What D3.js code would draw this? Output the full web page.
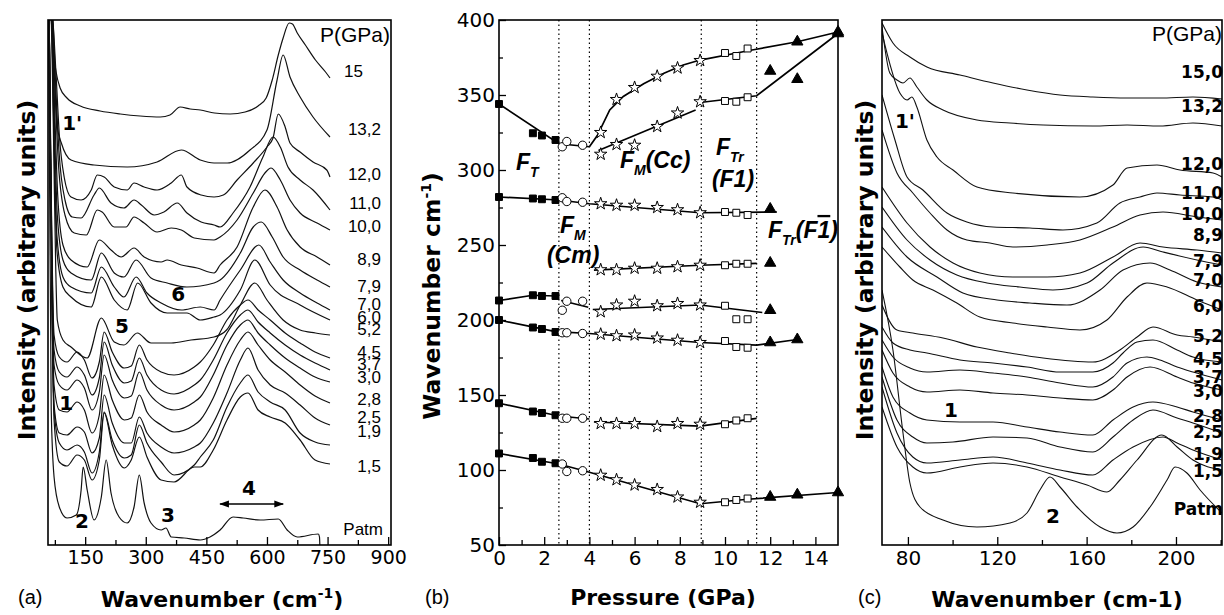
<!DOCTYPE html>
<html>
<head>
<meta charset="utf-8">
<script src="https://cdn.jsdelivr.net/npm/d3@7"></script>
<style>
body { margin: 0; background: #fff; }
svg { display: block; }
</style>
</head>
<body>
<svg id="fig" width="1224" height="615"></svg>
<script>
// ---- panel (a): spectra 60-750 cm-1, pairs [wavenumber, intensity] ----
var a150 = [[61,540],[66,525],[71,495],[78,473],[88,457],[105,447],[138,439],[187,434],[237,431],[286,429],[336,428],[360,430],[385,438],[410,436],[435,435],[470,432],[509,431],[546,433],[578,439],[598,447],[613,465],[628,490],[640,507],[655,522],[663,521],[675,512],[695,500],[720,485],[745,473],[756,467]];
var a132 = [[61,545],[68,525],[75,460],[81,418],[91,402],[115,385],[172,380],[254,378],[328,383],[388,395],[435,385],[469,382],[502,382],[558,395],[600,415],[625,465],[640,490],[657,468],[682,448],[714,428],[756,408]];
var a120 = [[62,545],[70,525],[78,470],[86,410],[98,368],[115,348],[140,345],[165,355],[180,370],[197,368],[222,358],[254,355],[271,362],[296,358],[328,355],[363,362],[388,370],[402,358],[437,350],[469,348],[492,350],[526,365],[566,382],[600,398],[615,407],[628,431],[645,418],[657,402],[682,393],[714,383],[748,375],[756,368]];
var a110 = [[62,545],[70,525],[77,460],[85,395],[100,345],[118,328],[140,327],[172,350],[185,357],[214,342],[246,337],[271,345],[289,340],[321,330],[345,333],[378,342],[402,332],[437,323],[469,320],[484,318],[516,332],[558,358],[590,388],[615,408],[633,398],[652,378],[682,365],[714,355],[756,335]];
var a100 = [[62,545],[69,525],[76,450],[84,380],[100,330],[123,312],[153,310],[180,335],[192,333],[222,318],[251,318],[271,328],[296,322],[328,313],[363,317],[388,315],[420,307],[469,305],[484,308],[526,325],[566,352],[595,372],[610,377],[633,365],[657,345],[682,332],[724,322],[756,315]];
var a89 = [[62,545],[68,525],[75,430],[82,350],[95,300],[115,285],[155,278],[185,305],[214,295],[239,288],[271,297],[296,288],[338,283],[353,285],[388,280],[427,277],[469,272],[484,280],[526,298],[566,338],[595,355],[625,338],[650,315],[682,298],[724,288],[756,280]];
var a79 = [[62,545],[68,525],[74,420],[81,330],[95,285],[115,272],[165,265],[190,292],[222,272],[246,268],[276,285],[313,267],[353,262],[402,258],[469,262],[484,265],[534,292],[566,318],[586,323],[613,308],[640,288],[682,275],[724,265],[756,258]];
var a70 = [[62,545],[67,525],[73,410],[80,310],[95,268],[115,258],[165,252],[190,278],[222,258],[246,248],[276,268],[303,252],[338,242],[388,235],[435,238],[469,235],[484,245],[534,275],[580,300],[608,283],[640,265],[682,252],[724,242],[756,235]];
var a60 = [[62,545],[67,525],[73,400],[80,295],[95,258],[115,248],[165,238],[190,268],[222,245],[254,235],[280,262],[313,242],[353,232],[402,232],[435,225],[469,228],[484,230],[534,255],[570,285],[608,260],[682,240],[756,225]];
var a52 = [[62,545],[66,525],[72,400],[77,280],[81,225],[95,205],[115,198],[155,187],[190,227],[222,203],[246,200],[279,212],[313,202],[363,202],[412,205],[469,208],[500,215],[534,240],[570,262],[600,245],[640,225],[682,215],[720,212],[756,210]];
// low-pressure spectra share one wavenumber grid
var aGrid = [61,73,86,105,130,148,167,185,197,217,247,264,284,303,338,370,420,435,467,501,534,553,578,608,645,682,719,756];
var a45 = [525,210,188,183,193,185,167,183,213,193,177,179,200,185,173,170,178,183,200,225,240,245,235,225,212,202,193,187];
var a37 = [525,195,173,168,178,170,150,167,203,180,162,164,187,170,155,151,160,165,185,212,230,235,223,212,200,190,182,175];
var a30 = [525,180,160,155,165,157,135,153,190,165,147,149,173,155,140,135,143,148,170,200,220,225,212,200,187,177,168,163];
var a28 = [525,160,135,133,143,135,112,130,170,145,125,127,150,133,120,113,120,125,147,180,205,213,200,185,173,160,149,142];
var a25 = [525,140,112,110,118,113,92,107,150,122,102,102,128,112,98,92,98,102,122,152,185,197,175,160,152,140,127,120];
var a19 = [525,135,102,95,100,93,72,93,133,105,87,90,120,102,83,70,80,88,105,138,162,170,153,143,135,112,103,100];
var a15 = [525,125,83,79,90,85,65,85,132,100,77,85,108,88,65,63,78,78,95,125,148,152,135,128,122,105,85,81];
var aPatm = [[59,525],[66,135],[73,68],[86,38],[105,27],[128,30],[140,55],[145,78],[155,55],[172,25],[190,48],[202,85],[214,52],[234,28],[254,22],[271,38],[284,70],[296,42],[313,22],[338,15],[350,17],[363,8],[395,7],[435,5],[459,8],[484,15],[516,28],[541,27],[583,25],[628,26],[650,15],[675,8],[727,11],[730,8],[731,-2]];
var aLabels = ["15","13,2","12,0","11,0","10,0","8,9","7,9","7,0","6,0","5,2","4,5","3,7","3,0","2,8","2,5","1,9","1,5","Patm"];
var aTicks = [150,300,450,600,750,900];
var aMinor = [75,225,375,525,675,825];

// ---- panel (b): mode wavenumbers vs pressure ----
var pT = [0, 1.5, 1.9, 2.5];               // F_T, filled squares
var pCm = [2.8, 3.0, 3.7];                 // F_M(Cm), open circles
var pCc = [4.5, 5.2, 6.0, 7.0, 7.9, 8.9];  // F_M(Cc), open stars
var pF1 = [10.0, 10.5, 11.0];              // F_Tr(F1), open squares
var pF1b = [12.0, 13.2, 15.0];             // F_Tr(F-1), filled triangles
var wT = [[344,324.5,323,320],[282,281,280.5,280],[213,216.5,216,216],[200,195,194,192],[144.5,139,138,136.5],[111,108,105.5,104.5]];
var wCm = [[315.5,319,316.5],[281.5,279,278.5],[206.5,212.5,212.5],[191.5,191.5,191],[134.5,134.5,134.5],[104,99,99.5]];
var wCc = [[325,347,355,362.5,368,373],[310.5,317,316.5,329,338,345.5],[277.5,276.5,276.5,275,273.5,271.5],[233.5,233.5,234.5,234.5,235.5,236.5],[205.5,210,212.5,209.5,211,210],[190.5,189.5,190,188,186.5,185],[131,131,131,129,131,130.5],[96.5,93.5,90,87,82,78.5]];
var wF1 = [[378,376,381],[346,345.5,348.5],[272,271.5,270],[236.5,237.5,237.5],[209.5,200.5,200.5],[186,182,181.5],[130.5,133,134.5],[78.5,80,81]];
var wF1b = [[null,385.5,392],[366,360.5,391],[274,null,null],[238,null,null],[206.5,null,null],[185,187,null],[82,83.5,85]];
var fitB = [
  [[0,344],[2.65,317.5],[4.0,315.5]],
  [[4.0,315.5],[4.35,323],[4.9,340],[5.5,349],[6.4,357.5],[7.3,364.5],[8.15,370],[8.9,373.3],[11.2,380],[13.2,385.5],[15,392]],
  [[4.4,313],[8.7,340]],
  [[8.9,345],[11.4,349.5],[15,391]],
  [[0,282],[2.65,280],[4.0,277.5],[8.9,271.5],[12.3,272]],
  [[4.2,233.3],[8.9,236.5],[11.4,237.8]],
  [[0,213],[1.5,216.5],[2.5,216]],
  [[2.75,213],[3.95,208.5]],
  [[4.15,207],[8.9,210],[11.65,205]],
  [[0,200],[2.5,192.2],[4.0,191],[8.9,185],[11.4,183.3],[13.2,187]],
  [[0,144.5],[2.65,136],[4.0,134]],
  [[4.2,132],[8.9,129.3],[11.4,134.4]],
  [[0,111],[2.65,104],[4.0,98.5],[8.9,77.5],[11.0,80.5],[15,85]]
];
var pBounds = [2.65, 4.0, 8.95, 11.4];

// ---- panel (c): spectra 68-220 cm-1 ----
var c150 = [[68.4,522],[73.3,502],[80.9,488],[88.5,478],[103.3,470],[118.1,462],[133.3,455],[148.1,450],[162.8,448],[178.1,447],[192.8,447],[207.6,448],[220.6,446]];
var c132 = [[68.4,518],[71.9,472],[75.1,465],[77.8,462],[80.9,467],[84.0,458],[88.5,445],[95.7,435],[110.9,425],[125.7,422],[140.5,420],[162.8,419],[178.1,420],[192.8,419],[207.6,422],[220.6,419]];
var c120 = [[68.4,512],[76.4,452],[79.6,445],[81.8,448],[84.0,438],[88.5,405],[93.0,388],[100.2,375],[110.9,358],[127.0,352],[157.0,348],[171.8,360],[178.1,377],[191.5,380],[201.8,375],[216.6,372],[220.6,368]];
var c110 = [[68.4,450],[74.2,405],[79.6,368],[86.7,355],[97.5,332],[106.4,323],[118.1,318],[134.6,317],[149.4,315],[164.6,322],[174.9,342],[183.9,348],[191.5,352],[201.8,350],[216.6,348],[220.6,345]];
var c100 = [[68.4,415],[75.1,372],[82.2,352],[89.9,332],[97.5,315],[106.4,305],[116.7,302],[127.0,298],[142.3,300],[157.0,305],[171.8,318],[183.9,330],[194.2,333],[209.4,328],[220.6,325]];
var c89 = [[68.4,358],[79.6,322],[89.9,298],[100.2,282],[112.2,272],[127.0,268],[142.3,268],[157.0,272],[171.8,288],[183.9,302],[194.2,298],[209.4,295],[220.6,292]];
var c79 = [[68.4,338],[79.6,305],[89.9,285],[101.9,270],[115.4,262],[130.1,258],[144.9,255],[160.2,262],[171.8,282],[185.3,298],[194.2,293],[209.4,285],[220.6,280]];
var c70 = [[68.4,318],[79.6,288],[93.0,268],[104.6,252],[119.9,245],[134.6,242],[151.2,240],[166.0,255],[176.3,275],[188.4,282],[197.3,275],[209.4,263],[220.6,258]];
var c60 = [[68.4,298],[76.4,278],[82.2,265],[91.2,255],[101.9,242],[112.2,228],[127.0,222],[142.3,218],[157.0,215],[169.1,225],[178.1,248],[187.0,262],[196.0,258],[209.4,245],[220.6,235]];
var c52 = [[68.4,240],[75.1,215],[82.2,212],[95.7,207],[110.9,198],[125.7,192],[140.5,187],[162.8,183],[174.9,195],[182.6,208],[189.7,218],[200.5,210],[207.6,208],[220.6,203]];
var c45 = [[68.4,218],[73.3,202],[80.9,195],[88.5,192],[103.3,185],[118.1,182],[133.3,178],[148.1,173],[162.8,173],[171.8,182],[176.3,192],[182.6,203],[189.7,205],[200.5,195],[207.6,188],[220.6,183]];
var c37 = [[68.4,205],[73.3,188],[80.9,177],[88.5,173],[103.3,175],[118.1,172],[133.3,168],[148.1,162],[162.8,158],[171.8,168],[178.1,182],[187.0,188],[192.8,185],[200.5,178],[207.6,173],[220.6,165]];
var c30 = [[68.4,195],[73.3,172],[80.9,158],[88.5,153],[103.3,155],[118.1,152],[133.3,150],[148.1,147],[162.8,145],[171.8,155],[178.1,168],[188.4,178],[200.5,168],[207.6,162],[220.6,155]];
var c28 = [[68.4,178],[73.3,148],[80.9,132],[88.5,125],[103.3,123],[118.1,123],[133.3,118],[148.1,113],[162.8,110],[171.8,125],[180.8,138],[189.7,143],[200.5,138],[207.6,133],[220.6,125]];
var c25 = [[68.4,168],[75.1,125],[82.2,108],[88.5,102],[100.2,103],[118.1,108],[133.3,107],[148.1,98],[162.8,93],[171.8,108],[180.8,125],[189.7,135],[200.5,127],[207.6,122],[220.6,112]];
var c19 = [[68.4,158],[75.1,112],[82.2,88],[88.5,82],[103.3,85],[118.1,88],[133.3,82],[148.1,75],[162.8,70],[171.8,85],[180.8,98],[194.2,108],[200.5,102],[207.6,95],[220.6,85]];
var c15 = [[68.4,138],[75.1,98],[82.2,78],[88.5,72],[103.3,78],[118.1,82],[133.3,78],[148.1,68],[160.2,60],[169.1,53],[174.9,65],[182.6,85],[193.7,110],[200.5,98],[207.6,85],[220.6,75]];
var cPatm = [[68.4,255],[73.3,195],[77.8,112],[80.9,62],[85.4,38],[95.7,25],[110.9,18],[125.7,22],[133.3,32],[139.1,55],[143.6,68],[148.1,58],[155.7,38],[166.0,18],[173.6,12],[180.8,18],[188.4,38],[196.0,65],[199.6,78],[204.9,72],[210.8,55],[220.6,32]];
var cLabels = ["15,0","13,2","12,0","11,0","10,0","8,9","7,9","7,0","6,0","5,2","4,5","3,7","3,0","2,8","2,5","1,9","1,5","Patm"];
var cTicks = [80,120,160,200];
var cMinor = [100,140,180,220];

// label placement (intensity units, same scale as the curves)
var aLabelAt = [468,410,365,336,313,280,253,235,222,210,187,175,162,140,122,108,73,10];
var cLabelAt = [467,433,375,346,325,304,278,259,233,203,180,162,148,123,107,85,68,30];

var svg = d3.select("#fig");
var top0 = 20, bot0 = 545;

var xA = d3.scaleLinear().domain([58, 907]).range([48, 391]);
var yA = d3.scaleLinear().domain([0, 525]).range([bot0, top0]);
var xB = d3.scaleLinear().domain([0, 15]).range([499, 838]);
var yB = d3.scaleLinear().domain([50, 400]).range([bot0, top0]);
var xC = d3.scaleLinear().domain([68.4, 220.6]).range([882, 1222]);
var yC = yA;

function clip(id, x0, x1) {
    svg.append("clipPath").attr("id", id).append("rect")
        .attr("x", x0).attr("y", top0).attr("width", x1 - x0).attr("height", bot0 - top0);
}
clip("clipA", xA.range()[0], xA.range()[1]);
clip("clipC", xC.range()[0], xC.range()[1]);

function frame(x) {
    svg.append("rect")
        .attr("x", x.range()[0]).attr("y", top0)
        .attr("width", x.range()[1] - x.range()[0]).attr("height", bot0 - top0)
        .attr("fill", "none").attr("stroke", "#000").attr("stroke-width", 1.6);
}

function ticksBottom(x, major, minor, fs) {
    var g = svg.append("g").attr("transform", "translate(0," + bot0 + ")")
        .call(d3.axisBottom(x).tickValues(major).tickSize(-8).tickPadding(6).tickFormat(d3.format("d")));
    g.select(".domain").remove();
    g.selectAll("text").style("font-family", "DejaVu Sans").style("font-size", fs + "px").attr("fill", "#000");
    var m = svg.append("g").attr("transform", "translate(0," + bot0 + ")")
        .call(d3.axisBottom(x).tickValues(minor).tickSize(-5).tickFormat(""));
    m.select(".domain").remove();
    svg.selectAll(".tick line").attr("stroke", "#000").attr("stroke-width", 1.3);
}

function title(x, y, rot, parts, fs) {
    var t = svg.append("text")
        .attr("transform", "translate(" + x + "," + y + ")" + (rot ? " rotate(-90)" : ""))
        .attr("text-anchor", "middle")
        .style("font-family", "DejaVu Sans").style("font-weight", "bold").style("font-size", fs + "px");
    parts.forEach(function(p) {
        t.append("tspan").text(p[0]).attr("dy", p[1]).style("font-size", p[2] + "px");
    });
}

function plain(x, y, txt, fs, anchor, family, weight) {
    return svg.append("text").attr("x", x).attr("y", y).text(txt)
        .attr("text-anchor", anchor || "start")
        .style("font-family", family || "Liberation Sans")
        .style("font-weight", weight || "normal")
        .style("font-size", fs + "px");
}

var spec = d3.line().curve(d3.curveMonotoneX);

// ================= panel (a) =================
var gA = svg.append("g").attr("clip-path", "url(#clipA)");
var lowSets = [a45, a37, a30, a28, a25, a19, a15];
var allA = [a150, a132, a120, a110, a100, a89, a79, a70, a60, a52]
    .concat(lowSets.map(function(v) { return aGrid.map(function(w, i) { return [w, v[i]]; }); }))
    .concat([aPatm]);
gA.selectAll("path.sp").data(allA).enter().append("path")
    .attr("class", "sp")
    .attr("d", function(d) { return spec(d.map(function(p) { return [xA(p[0]), yA(p[1])]; })); })
    .attr("fill", "none").attr("stroke", "#111").attr("stroke-width", 1.2);

frame(xA);
ticksBottom(xA, aTicks, aMinor, 19);

plain(390, 42, "P(GPa)", 21, "end");
aLabels.forEach(function(l, i) {
    var xe = l === "15" ? 363 : (l === "Patm" ? 383 : 381);
    plain(xe, yA(aLabelAt[i]), l, 17, "end");
});
// peak numbers
[["1'", 93, 415], ["6", 363, 244], ["5", 224, 212], ["1", 86, 135], ["2", 125, 17], ["3", 338, 23], ["4", 538, 50]]
    .forEach(function(t) { plain(xA(t[1]), yA(t[2]), t[0], 20, "start", "DejaVu Sans", "bold"); });
// band 4 double arrow
var defs = svg.append("defs");
defs.append("marker").attr("id", "ah").attr("viewBox", "0 0 10 10").attr("refX", 9).attr("refY", 5)
    .attr("markerWidth", 7).attr("markerHeight", 7).attr("orient", "auto-start-reverse")
    .append("path").attr("d", "M0,1.5L10,5L0,8.5z").attr("fill", "#000");
svg.append("line").attr("x1", xA(484)).attr("x2", xA(640)).attr("y1", yA(41)).attr("y2", yA(41))
    .attr("stroke", "#000").attr("stroke-width", 1.4)
    .attr("marker-start", "url(#ah)").attr("marker-end", "url(#ah)");

title(35, 270, true, [["Intensity (arbitrary units)", 0, 23.5]], 23.5);
title(222, 607, false, [["Wavenumber (cm", 0, 22], ["-1", -9, 14], [")", 9, 22]], 22);
plain(18, 604, "(a)", 20);

// ================= panel (b) =================
pBounds.forEach(function(p) {
    svg.append("line").attr("x1", xB(p)).attr("x2", xB(p)).attr("y1", top0).attr("y2", bot0)
        .attr("stroke", "#000").attr("stroke-width", 1.2).attr("stroke-dasharray", "1.5,3");
});
var fitLine = d3.line().x(function(d) { return xB(d[0]); }).y(function(d) { return yB(d[1]); });
svg.selectAll("path.fit").data(fitB).enter().append("path").attr("class", "fit")
    .attr("d", fitLine).attr("fill", "none").attr("stroke", "#000").attr("stroke-width", 1.7);

function markers(ps, rows, type, size, filled) {
    var pts = [];
    rows.forEach(function(r) { r.forEach(function(v, i) { if (v != null) pts.push([ps[i], v]); }); });
    svg.append("g").selectAll("path").data(pts).enter().append("path")
        .attr("transform", function(d) { return "translate(" + xB(d[0]) + "," + yB(d[1]) + ")"; })
        .attr("d", d3.symbol().type(type).size(size))
        .attr("fill", filled ? "#000" : "#fff").attr("stroke", "#000").attr("stroke-width", 1);
}
markers(pT, wT, d3.symbolSquare, 48, true);
markers(pCm, wCm, d3.symbolCircle, 55, false);
markers(pCc, wCc, d3.symbolStar, 48, false);
markers(pF1, wF1, d3.symbolSquare, 48, false);
markers(pF1b, wF1b, d3.symbolTriangle, 55, true);

frame(xB);
ticksBottom(xB, d3.range(0, 15, 2), d3.range(1, 15, 2), 20);
var gl = svg.append("g").attr("transform", "translate(" + xB.range()[0] + ",0)")
    .call(d3.axisLeft(yB).tickValues(d3.range(50, 401, 50)).tickSize(-7).tickPadding(4).tickFormat(d3.format("d")));
gl.select(".domain").remove();
gl.selectAll("text").style("font-family", "DejaVu Sans").style("font-size", "20px").attr("fill", "#000");
var gm = svg.append("g").attr("transform", "translate(" + xB.range()[0] + ",0)")
    .call(d3.axisLeft(yB).tickValues(d3.range(75, 400, 50)).tickSize(-4).tickFormat(""));
gm.select(".domain").remove();
svg.selectAll(".tick line").attr("stroke", "#000").attr("stroke-width", 1.3);

function phase(P, w, parts) {
    var t = svg.append("text").attr("x", xB(P)).attr("y", yB(w))
        .style("font-family", "Liberation Sans").style("font-weight", "bold").style("font-style", "italic");
    parts.forEach(function(p) {
        var s = t.append("tspan").text(p[0]).attr("dy", p[1]).style("font-size", p[2] + "px");
        if (p[3]) s.style("text-decoration", "overline");
    });
}
phase(0.75, 300, [["F", 0, 23], ["T", 7, 14]]);
phase(5.35, 301.3, [["F", 0, 23], ["M", 7, 14], ["(Cc)", -7, 23]]);
phase(9.6, 310, [["F", 0, 23], ["Tr", 7, 14]]);
phase(9.42, 288.7, [["(F1)", 0, 23]]);
phase(2.7, 258, [["F", 0, 23], ["M", 7, 14]]);
phase(2.12, 238, [["(Cm)", 0, 23]]);
phase(11.9, 254.7, [["F", 0, 23], ["Tr", 7, 14], ["(F", -7, 23], ["1", 0, 23, true], [")", 0, 23]]);

title(440, 296, true, [["Wavenumber cm", 0, 23.5], ["-1", -9, 14], [")", 9, 23.5]], 23.5);
title(663, 605, false, [["Pressure (GPa)", 0, 22]], 22);
plain(425, 604, "(b)", 20);

// ================= panel (c) =================
var gC = svg.append("g").attr("clip-path", "url(#clipC)");
var allC = [c150, c132, c120, c110, c100, c89, c79, c70, c60, c52, c45, c37, c30, c28, c25, c19, c15, cPatm];
gC.selectAll("path.sp").data(allC).enter().append("path")
    .attr("class", "sp")
    .attr("d", function(d) { return spec(d.map(function(p) { return [xC(p[0]), yC(p[1])]; })); })
    .attr("fill", "none").attr("stroke", "#111").attr("stroke-width", 1.1);

frame(xC);
ticksBottom(xC, cTicks, cMinor, 20);

plain(1222, 41, "P(GPa)", 21, "end");
cLabels.forEach(function(l, i) {
    plain(xC.range()[1] + 1, yC(cLabelAt[i]), l, 17, "end", "DejaVu Sans", "bold");
});
[["1'", 74.2, 417], ["1", 96.1, 128], ["2", 141.8, 22]]
    .forEach(function(t) { plain(xC(t[1]), yC(t[2]), t[0], 20, "start", "DejaVu Sans", "bold"); });

title(873, 270, true, [["Intensity (arbitrary units)", 0, 23.5]], 23.5);
title(1057, 607, false, [["Wavenumber (cm-1)", 0, 22]], 22);
plain(858, 604, "(c)", 20);
</script>
</body>
</html>
